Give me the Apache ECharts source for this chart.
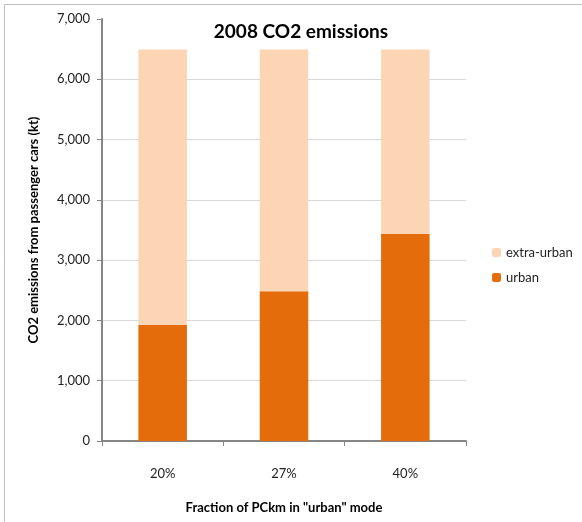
<!DOCTYPE html>
<html><head><meta charset="utf-8">
<script src="https://cdn.jsdelivr.net/npm/echarts@6/dist/echarts.min.js"></script>
<style>html,body{margin:0;padding:0;background:#fff}#c{width:582px;height:522px}</style>
</head><body><div id="c"></div>
<script>
const categories = ['20%', '27%', '40%'];
const urban = [1930, 2485, 3435];
const extraUrban = [4565, 4010, 3060];
const yTicks = { min: 0, max: 7000, interval: 1000 };
const titleText = '2008 CO2 emissions';
const xTitle = 'Fraction of PCkm in "urban" mode';
const yTitle = 'CO2 emissions from passenger cars (kt)';

const font = 'Lato, "Open Sans", sans-serif';
const chart = echarts.init(document.getElementById('c'), null, {renderer: 'canvas'});
chart.setOption({
  animation: false,
  backgroundColor: '#fff',
  textStyle: {fontFamily: font},
  title: {text: titleText, left: 296, top: 17, textAlign: 'center',
    textStyle: {fontSize: 19, fontWeight: 'bold', color: '#000', fontFamily: font}},
  legend: {
    orient: 'vertical', left: 487, top: 241, itemWidth: 9, itemHeight: 9, itemGap: 12,
    data: ['extra-urban', 'urban'],
    textStyle: {fontSize: 13, color: '#222', fontFamily: font}
  },
  grid: {left: 102, right: 116, top: 19, bottom: 81, containLabel: false},
  xAxis: {
    type: 'category', data: categories,
    name: xTitle, nameLocation: 'middle', nameGap: 60,
    nameTextStyle: {fontSize: 13, fontWeight: 'bold', color: '#000', fontFamily: font},
    axisLine: {lineStyle: {color: '#868686', width: 2}},
    axisTick: {show: true, alignWithLabel: false, length: 5, lineStyle: {color: '#868686'}},
    axisLabel: {fontSize: 13, color: '#222', margin: 26, fontFamily: font}
  },
  yAxis: {
    type: 'value', min: yTicks.min, max: yTicks.max, interval: yTicks.interval,
    name: yTitle, nameLocation: 'middle', nameGap: 62, nameRotate: 90,
    nameTextStyle: {fontSize: 13, fontWeight: 'bold', color: '#000', fontFamily: font},
    axisLine: {show: true, lineStyle: {color: '#868686', width: 2}},
    axisTick: {show: true, length: 5, lineStyle: {color: '#868686'}},
    axisLabel: {fontSize: 13, color: '#222', margin: 12, fontFamily: font,
      formatter: v => v.toLocaleString('en-US')},
    splitLine: {show: true, showMaxLine: false, lineStyle: {color: '#d9d9d9', width: 1}}
  },
  series: [
    {name: 'urban', type: 'bar', stack: 's', data: urban, barWidth: '40%',
      itemStyle: {color: '#E46C0A'}},
    {name: 'extra-urban', type: 'bar', stack: 's', data: extraUrban, barWidth: '40%',
      itemStyle: {color: '#FCD5B5'}}
  ],
  graphic: [
    {type: 'line', shape: {x1: 4.5, y1: 4.5, x2: 582, y2: 4.5},
      style: {stroke: '#bfbfbf', lineWidth: 1}, silent: true},
    {type: 'line', shape: {x1: 4.5, y1: 4.5, x2: 4.5, y2: 522},
      style: {stroke: '#bfbfbf', lineWidth: 1}, silent: true}
  ]
});
</script></body></html>
